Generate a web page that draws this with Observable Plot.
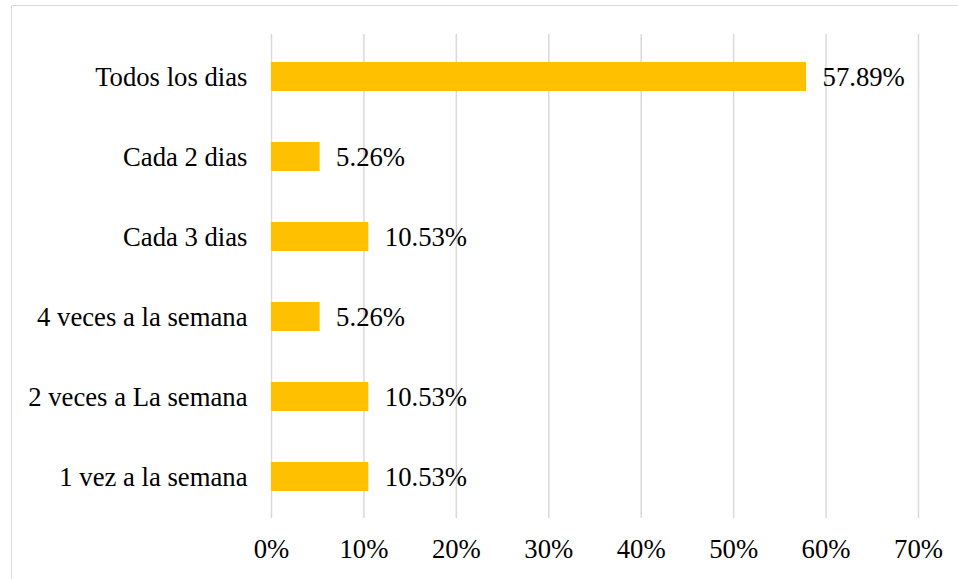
<!DOCTYPE html>
<html>
<head>
<meta charset="utf-8">
<script src="https://cdn.jsdelivr.net/npm/d3@7"></script>
<script src="https://cdn.jsdelivr.net/npm/@observablehq/plot@0.6"></script>
<style>
  html, body { margin: 0; padding: 0; background: #fff; overflow: hidden; }
  #frame { position: absolute; left: 11px; top: 5px; width: 980px; height: 620px; border: 1.5px solid #d9d9d9; box-sizing: border-box; }
  #chart { position: absolute; left: 0; top: 0; }
</style>
</head>
<body>
<div id="frame"></div>
<div id="chart"></div>
<script>
const categories = ["Todos los dias", "Cada 2 dias", "Cada 3 dias", "4 veces a la semana", "2 veces a La semana", "1 vez a la semana"];
const values = [57.89, 5.26, 10.53, 5.26, 10.53, 10.53];
const xTicks = [0, 10, 20, 30, 40, 50, 60, 70];

const data = categories.map((c, i) => ({category: c, value: values[i]}));
const FONT = "Liberation Serif";
const FS = 26.7;

const chart = Plot.plot({
  width: 958,
  height: 579,
  marginLeft: 271,
  marginRight: 40,
  marginTop: 34,
  marginBottom: 61,
  style: {fontSize: FS + "px", fontFamily: FONT, color: "#000", background: "transparent"},
  x: {domain: [0, 70], ticks: xTicks, tickFormat: d => d + "%", label: null},
  y: {domain: categories, paddingInner: 0.64, paddingOuter: 0.32, label: null},
  marks: [
    Plot.gridX(xTicks, {stroke: "#d9d9d9", strokeOpacity: 1, strokeWidth: 1.5}),
    Plot.barX(data, {x: "value", y: "category", fill: "#FFC000"}),
    Plot.text(data, {x: "value", y: "category", text: d => d.value.toFixed(2) + "%", textAnchor: "start", dx: 16, fill: "#000", fontSize: FS, fontFamily: FONT}),
    Plot.axisX(xTicks, {tickSize: 0, tickPadding: 21, tickFormat: d => d + "%", fontSize: FS, fontFamily: FONT, label: null}),
    Plot.axisY({tickSize: 0, tickPadding: 24, fontSize: FS, fontFamily: FONT, label: null})
  ]
});
document.getElementById("chart").appendChild(chart);
</script>
</body>
</html>
